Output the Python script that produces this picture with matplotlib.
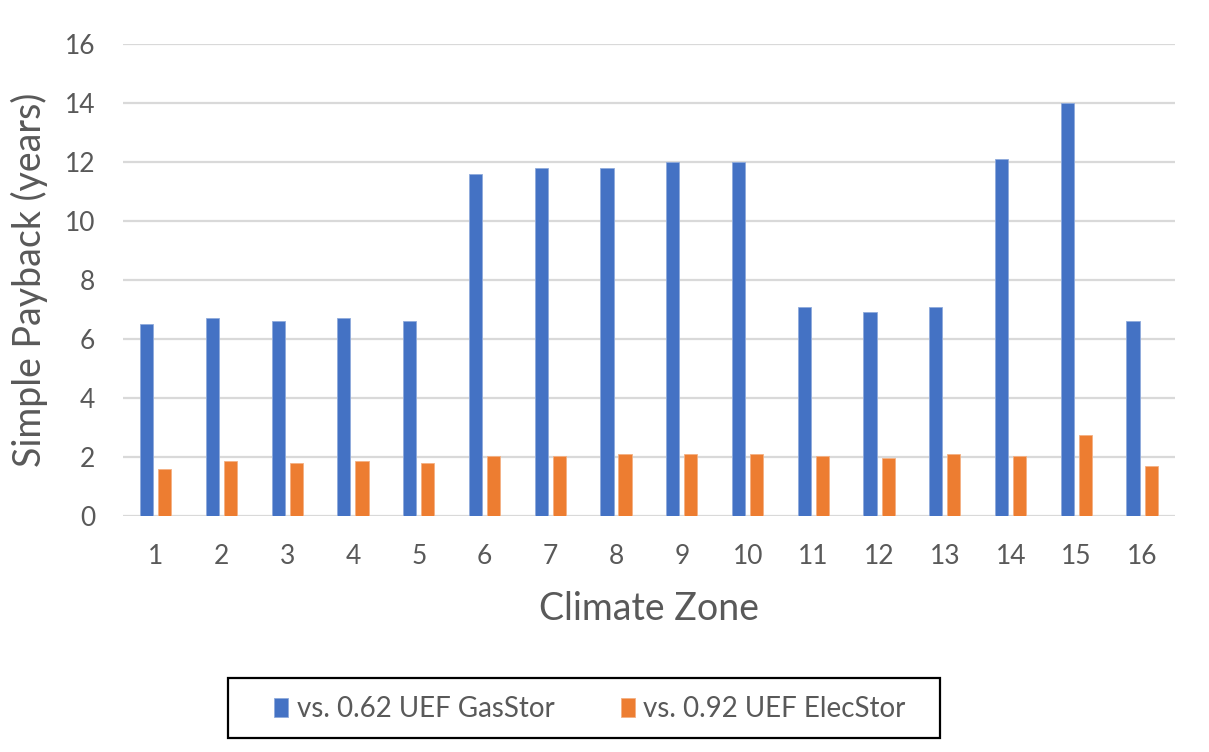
import matplotlib.pyplot as plt
import numpy as np
from matplotlib.patches import Rectangle

# Payback per climate zone
zonas = list(range(1, 17))
vs_gas = [6.5, 6.7, 6.6, 6.7, 6.6, 11.6, 11.8, 11.8, 12.0, 12.0, 7.1, 6.9, 7.1, 12.1, 14.0, 6.6]
vs_elec = [1.6, 1.85, 1.8, 1.85, 1.8, 2.05, 2.05, 2.1, 2.1, 2.1, 2.05, 1.95, 2.1, 2.05, 2.75, 1.7]
series = ["vs. 0.62 UEF GasStor", "vs. 0.92 UEF ElecStor"]

azul = "#4472C4"
naranja = "#ED7D31"
gris = "#595959"

plt.rcParams['font.family'] = ['Lato', 'DejaVu Sans']

fig = plt.figure(figsize=(12.09, 7.52), dpi=100)
ax = fig.add_axes([0.1017, 0.3138, 0.8703, 0.6277])

x = np.array(zonas)
ancho = 0.2
ax.bar(x - 0.14, vs_gas, ancho, color=azul, label=series[0],
       edgecolor="#8faadc", linewidth=0.6, zorder=3)
ax.bar(x + 0.135, vs_elec, ancho, color=naranja, label=series[1],
       edgecolor="#f4b183", linewidth=0.6, zorder=3)

ax.set_xlim(0.5, 16.5)
ax.set_ylim(0, 16)
ax.set_yticks(range(0, 17, 2))
ax.set_xticks(x)
ax.grid(axis="y", color="#d9d9d9", linewidth=1.6, zorder=0)
ax.set_axisbelow(True)
for s in ax.spines.values():
    s.set_visible(False)
ax.tick_params(length=0, labelsize=19, labelcolor=gris)
ax.tick_params(axis="x", pad=20)
ax.tick_params(axis="y", pad=20)

ax.set_xlabel("Climate Zone", fontsize=27, color=gris, labelpad=16)
ax.set_ylabel("Simple Payback (years)", fontsize=27, color=gris, labelpad=12)

# Recuadro de la leyenda
fig.patches.append(Rectangle((228 / 1209, 1 - 738 / 752), 712 / 1209, 60 / 752,
                             transform=fig.transFigure, fill=False,
                             edgecolor="black", linewidth=1.6))
fig.legend(loc="center", bbox_to_anchor=(590 / 1209, 1 - 709 / 752), ncol=2,
           frameon=False, fontsize=20, labelcolor=gris, handlelength=0.5,
           handleheight=0.7, handletextpad=0.3, columnspacing=2.4)

fig.savefig("out.png", dpi=100)
